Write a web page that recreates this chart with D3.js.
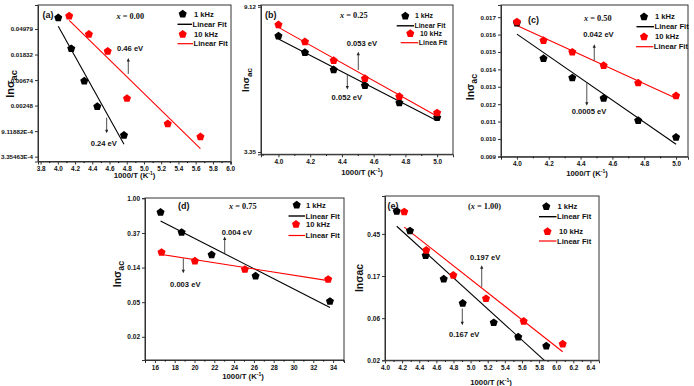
<!DOCTYPE html>
<html><head><meta charset="utf-8">
<script src="https://cdn.jsdelivr.net/npm/d3@7"></script>
<style>
body{margin:0;background:#fff;}
svg{display:block;}
text{font-family:"Liberation Sans",Arial,sans-serif;fill:#111;}
</style></head><body>
<svg id="chart" width="694" height="386"></svg>
<script>
// ---------- DATA ----------
// (a) x = 0.00   (y values are ln(sigma_ac))
const aX1k  = [4.005, 4.156, 4.307, 4.458, 4.768];
const aY1k  = [-2.56, -3.77, -5.04, -6.04, -7.16];
const aX10k = [4.132, 4.361, 4.579, 4.803, 5.276, 5.655];
const aY10k = [-2.49, -3.21, -3.87, -5.72, -6.71, -7.22];
const aXTicks = [3.8, 4.0, 4.2, 4.4, 4.6, 4.8, 5.0, 5.2, 5.4, 5.6, 5.8, 6.0];
const aYTicks = [-3, -4, -5, -6, -7, -8];
const aYLabels = ["0.04979", "0.01832", "0.00674", "0.00248", "9.11882E-4", "3.35463E-4"];

// (b) x = 0.25
const bX = [4.0, 4.167, 4.348, 4.545, 4.762, 5.0];
const bY1k  = [2.008, 1.895, 1.776, 1.668, 1.548, 1.447];
const bY10k = [2.086, 1.969, 1.840, 1.716, 1.592, 1.479];
const bXTicks = [4.0, 4.2, 4.4, 4.6, 4.8, 5.0];
const bYTicks = [2.21, 1.21];
const bYLabels = ["9.12", "3.35"];

// (c) x = 0.50
const cX = [4.0, 4.167, 4.348, 4.545, 4.762, 5.0];
const cY1k  = [0.01666, 0.01462, 0.01351, 0.01234, 0.01106, 0.01010];
const cY10k = [0.01673, 0.01566, 0.01499, 0.01422, 0.01322, 0.01248];
const cXTicks = [4.0, 4.2, 4.4, 4.6, 4.8, 5.0];
const cYTicks = [0.009, 0.010, 0.011, 0.012, 0.013, 0.014, 0.015, 0.016, 0.017];
const cYLabels = ["0.009", "0.010", "0.011", "0.012", "0.013", "0.014", "0.015", "0.016", "0.017"];

// (d) x = 0.75
const dX1k  = [16.57, 18.70, 21.73, 26.17, 33.68];
const dY1k  = [-0.405, -0.983, -1.630, -2.246, -2.977];
const dX10k = [16.67, 20.04, 25.09, 33.5];
const dY10k = [-1.561, -1.812, -2.052, -2.341];
const dXTicks = [16, 18, 20, 22, 24, 26, 28, 30, 32, 34];
const dYTicks = [0, -1, -2, -3, -4];
const dYLabels = ["1.00", "0.37", "0.14", "0.05", "0.02"];

// (e) x = 1.00
const eX1k  = [4.137, 4.292, 4.475, 4.686, 4.908, 5.270, 5.557, 5.884];
const eY1k  = [-0.261, -0.729, -1.315, -1.869, -2.446, -2.906, -3.247, -3.460];
const eX10k = [4.225, 4.482, 4.798, 5.180, 5.620, 6.076];
const eY10k = [-0.277, -1.187, -1.781, -2.336, -2.874, -3.413];
const eXTicks = [4.0, 4.2, 4.4, 4.6, 4.8, 5.0, 5.2, 5.4, 5.6, 5.8, 6.0, 6.2, 6.4];
const eYTicks = [-0.8, -1.8, -2.8, -3.8];
const eYLabels = ["0.45", "0.17", "0.06", "0.02"];

// activation-energy annotations (data units: x, arrow from y1 to y2, label anchor lx, ly)
const aAnn = [{x:4.818, y1:-4.76, y2:-4.136, label:"0.46 eV", lx:4.687, ly:-3.88},
              {x:4.567, y1:-6.474, y2:-7.085, label:"0.24 eV", lx:4.382, ly:-7.58}];
const bAnn = [{x:4.503, y1:1.774, y2:1.900, label:"0.053 eV", lx:4.430, ly:1.939},
              {x:4.434, y1:1.739, y2:1.641, label:"0.052 eV", lx:4.335, ly:1.567}];
const cAnn = [{x:4.486, y1:0.014505, y2:0.015445, label:"0.042 eV", lx:4.417, ly:0.015835},
              {x:4.439, y1:0.013208, y2:0.011906, label:"0.0005 eV", lx:4.344, ly:0.011447}];
const dAnn = [{x:23.05, y1:-1.588, y2:-1.10, label:"0.004 eV", lx:22.75, ly:-1.045},
              {x:18.87, y1:-1.733, y2:-2.166, label:"0.003 eV", lx:17.53, ly:-2.562}];
const eAnn = [{x:5.130, y1:-2.057, y2:-1.541, label:"0.197 eV", lx:4.993, ly:-1.422},
              {x:4.903, y1:-2.571, y2:-2.968, label:"0.167 eV", lx:4.748, ly:-3.253}];

// ---------- LAYOUT ----------
const panels = [
  {tag:"(a)", comp:"0.00", paren:false, box:[38,5,231,161.5], xDom:[3.77,6.01], yDom:[-8.19,-2.06],
   xT:aXTicks, xFmt:d3.format(".1f"), yT:aYTicks, yL:aYLabels, yFs:6.2,
   s1:[aX1k,aY1k], s10:[aX10k,aY10k], ann:aAnn, fit10:"Linear Fit",
   tagPos:[42.5,17.5], compPos:[116.5,18.5], legFs:7.6,
   leg:{sym1:[182.7,14], line1:[177.5,192,24.3], sym10:[182.7,34.3], line10:[177.5,193,43.7], tx:194},
   yTitle:{x:14, y:84, fs:11, sub:true}, xTitle:{x:134.5, y:177.5}},
  {tag:"(b)", comp:"0.25", paren:false, box:[261,5,453,154.3], xDom:[3.89,5.10], yDom:[1.194,2.222],
   xT:bXTicks, xFmt:d3.format(".1f"), yT:bYTicks, yL:bYLabels, yFs:6.2,
   s1:[bX,bY1k], s10:[bX,bY10k], ann:bAnn, fit10:"Linea Fit",
   tagPos:[265,18], compPos:[340,18], legFs:6.9,
   leg:{sym1:[405.3,16], line1:[396.7,414,25.8], sym10:[410.3,33.5], line10:[400.7,418.3,42.7], tx:415, tx10:420},
   yTitle:{x:249, y:80, fs:9.5, sub:true}, xTitle:{x:362, y:175}},
  {tag:"(c)", comp:"0.50", paren:false, box:[501,5,688,156.7], xDom:[3.90,5.075], yDom:[0.00898,0.0177],
   xT:cXTicks, xFmt:d3.format(".1f"), yT:cYTicks, yL:cYLabels, yFs:6.2,
   s1:[cX,cY1k], s10:[cX,cY10k], ann:cAnn, fit10:"Linear Fit",
   tagPos:[528,22.5], compPos:[584,20.5], legFs:7.6,
   leg:{sym1:[644,16.7], line1:[636.5,654,26.7], sym10:[644,36.7], line10:[636,653.3,46.7], tx:655},
   yTitle:{x:474, y:87, fs:10.5, sub:true}, xTitle:{x:587, y:176}},
  {tag:"(d)", comp:"0.75", paren:false, box:[145,198,344,360], xDom:[15,35.1], yDom:[-4.67,0.01],
   xT:dXTicks, xFmt:d3.format("d"), yT:dYTicks, yL:dYLabels, yFs:6.5,
   s1:[dX1k,dY1k], s10:[dX10k,dY10k], ann:dAnn, fit10:"Linear Fit",
   tagPos:[178,208.5], compPos:[229,208.5], legFs:7.6,
   leg:{sym1:[296.7,205], line1:[288.5,305,216], sym10:[296,224.3], line10:[288.5,305,235.5], tx:306},
   yTitle:{x:121, y:274, fs:10.5, sub:true}, xTitle:{x:243, y:378.5}},
  {tag:"(e)", comp:"1.00", paren:true, box:[385,196,599,360.3], xDom:[4.0,6.5], yDom:[-3.8,0.1],
   xT:eXTicks, xFmt:d3.format(".1f"), yT:eYTicks, yL:eYLabels, yFs:6.5,
   s1:[eX1k,eY1k], s10:[eX10k,eY10k], ann:eAnn, fit10:"Linear Fit",
   tagPos:[387.5,208.5], compPos:[468,208.5], legFs:7.6,
   leg:{sym1:[546.3,206.5], line1:[539,556.5,216.7], sym10:[547.5,231.5], line10:[539,556.5,241], tx:557.5, tx10:559},
   yTitle:{x:362.5, y:278, fs:10.5, sub:false}, xTitle:{x:491, y:384.5}}
];

const RED = "#ff0000", BLK = "#000000";
const pentagon = {draw(ctx, size){
  const r = Math.sqrt(size);
  for (let i = 0; i < 5; i++) {
    const a = -Math.PI/2 + i*2*Math.PI/5;
    const px = r*Math.cos(a), py = r*Math.sin(a);
    if (i) ctx.lineTo(px, py); else ctx.moveTo(px, py);
  }
  ctx.closePath();
}};
const sym = d3.symbol().type(pentagon).size(18);

function regress(xs, ys){
  const n = xs.length, mx = d3.mean(xs), my = d3.mean(ys);
  let sxy = 0, sxx = 0;
  for (let i = 0; i < n; i++){ sxy += (xs[i]-mx)*(ys[i]-my); sxx += (xs[i]-mx)**2; }
  const b = sxy/sxx, a = my - b*mx;
  const x0 = d3.min(xs), x1 = d3.max(xs);
  return [[x0, a+b*x0],[x1, a+b*x1]];
}

const svg = d3.select("#chart");

panels.forEach((p, pi) => {
  const [L,T,R,B] = p.box;
  const x = d3.scaleLinear().domain(p.xDom).range([L,R]);
  const y = d3.scaleLinear().domain(p.yDom).range([B,T]);
  const g = svg.append("g");

  const clipId = "clip"+pi;
  svg.append("clipPath").attr("id", clipId).append("rect")
     .attr("x", L).attr("y", T).attr("width", R-L).attr("height", B-T);

  // x axis
  const xa = g.append("g").attr("transform", `translate(0,${B})`)
    .call(d3.axisBottom(x).tickValues(p.xT).tickFormat(p.xFmt).tickSize(3).tickPadding(2));
  // minor x ticks
  const step = p.xT[1]-p.xT[0];
  const minors = [];
  for (let v = p.xT[0]-step/2; v <= p.xDom[1]; v += step) if (v >= p.xDom[0]) minors.push(v);
  g.append("g").attr("transform", `translate(0,${B})`)
    .call(d3.axisBottom(x).tickValues(minors).tickFormat("").tickSize(1.6))
    .select(".domain").remove();
  // y axis
  const ya = g.append("g").attr("transform", `translate(${L},0)`)
    .call(d3.axisLeft(y).tickValues(p.yT).tickFormat((d,i)=>p.yL[i]).tickSize(3).tickPadding(2));
  [xa, ya].forEach(a => {
    a.selectAll("text").style("font-size", "6.4px").style("font-weight", "bold")
      .style("font-family", "'Liberation Sans',Arial,sans-serif").attr("fill", "#222");
    a.selectAll("line").attr("stroke", "#333");
    a.select(".domain").attr("stroke", "#333");
  });
  ya.selectAll("text").style("font-size", p.yFs+"px");
  // frame
  g.append("rect").attr("x", L).attr("y", T).attr("width", R-L).attr("height", B-T)
   .attr("fill", "none").attr("stroke", "#333").attr("stroke-width", 1);

  // fits
  const line = d3.line().x(d=>x(d[0])).y(d=>y(d[1]));
  const cg = g.append("g").attr("clip-path", `url(#${clipId})`);
  cg.append("path").attr("d", line(regress(p.s1[0], p.s1[1])))
    .attr("stroke", BLK).attr("stroke-width", 1.1).attr("fill", "none");
  cg.append("path").attr("d", line(regress(p.s10[0], p.s10[1])))
    .attr("stroke", RED).attr("stroke-width", 1.1).attr("fill", "none");

  // points
  [[p.s1, BLK], [p.s10, RED]].forEach(([s, col]) => {
    g.append("g").selectAll("path").data(d3.range(s[0].length)).join("path")
     .attr("d", sym).attr("fill", col)
     .attr("transform", i => `translate(${x(s[0][i])},${y(s[1][i])})`);
  });

  // annotations
  p.ann.forEach(a => {
    const xx = x(a.x), ya1 = y(a.y1), ya2 = y(a.y2);
    const dir = Math.sign(ya2 - ya1);
    g.append("line").attr("x1", xx).attr("x2", xx).attr("y1", ya1).attr("y2", ya2 - dir*2)
     .attr("stroke", "#222").attr("stroke-width", 0.8);
    g.append("path").attr("d", `M${xx-1.6},${ya2-dir*3.5}L${xx+1.6},${ya2-dir*3.5}L${xx},${ya2}Z`)
     .attr("fill", "#222");
    g.append("text").attr("x", x(a.lx)).attr("y", y(a.ly)).text(a.label)
     .style("font-size", "7.6px").style("font-weight", "bold");
  });

  // panel tag and composition
  g.append("text").attr("x", p.tagPos[0]).attr("y", p.tagPos[1]).text(p.tag)
   .style("font-size", "9px").style("font-weight", "bold");
  const ct = g.append("text").attr("x", p.compPos[0]).attr("y", p.compPos[1])
   .style("font-family", "'Liberation Serif','Times New Roman',serif").style("font-size", "8.3px").style("font-weight", "bold");
  if (p.paren) ct.append("tspan").text("(");
  ct.append("tspan").text("x").style("font-style", "italic");
  ct.append("tspan").text(" = " + p.comp + (p.paren ? ")" : ""));

  // legend
  const lg = p.leg;
  const tx10 = lg.tx10 || lg.tx;
  const legText = (xp, yp, t) => g.append("text").attr("x", xp).attr("y", yp + p.legFs*0.36).text(t)
     .style("font-size", p.legFs+"px").style("font-weight", "bold");
  g.append("path").attr("d", sym).attr("fill", BLK).attr("transform", `translate(${lg.sym1[0]},${lg.sym1[1]})`);
  legText(lg.tx, lg.sym1[1], "1 kHz");
  g.append("line").attr("x1", lg.line1[0]).attr("x2", lg.line1[1]).attr("y1", lg.line1[2]).attr("y2", lg.line1[2])
   .attr("stroke", BLK).attr("stroke-width", 1.4);
  legText(lg.line1[1]+0.5, lg.line1[2], "Linear Fit");
  g.append("path").attr("d", sym).attr("fill", RED).attr("transform", `translate(${lg.sym10[0]},${lg.sym10[1]})`);
  legText(tx10, lg.sym10[1], "10 kHz");
  g.append("line").attr("x1", lg.line10[0]).attr("x2", lg.line10[1]).attr("y1", lg.line10[2]).attr("y2", lg.line10[2])
   .attr("stroke", RED).attr("stroke-width", 1.2);
  legText(lg.line10[1]+0.5, lg.line10[2], p.fit10);

  // y title
  const yt = g.append("text").attr("transform", `translate(${p.yTitle.x},${p.yTitle.y}) rotate(-90)`)
    .attr("text-anchor", "middle").style("font-size", p.yTitle.fs+"px").style("font-weight", "bold");
  yt.append("tspan").text("lnσ");
  if (p.yTitle.sub) {
    yt.append("tspan").text("ac").attr("dy", p.yTitle.fs*0.3).style("font-size", (p.yTitle.fs*0.85)+"px");
  } else {
    yt.append("tspan").text("ac");
  }
  // x title
  const xt = g.append("text").attr("x", p.xTitle.x).attr("y", p.xTitle.y).attr("text-anchor", "middle")
    .style("font-size", "7.8px").style("font-weight", "bold");
  xt.append("tspan").text("1000/T (K");
  xt.append("tspan").text("-1").attr("dy", -3).style("font-size", "5px");
  xt.append("tspan").text(")").attr("dy", 3);
});
</script>
</body></html>
